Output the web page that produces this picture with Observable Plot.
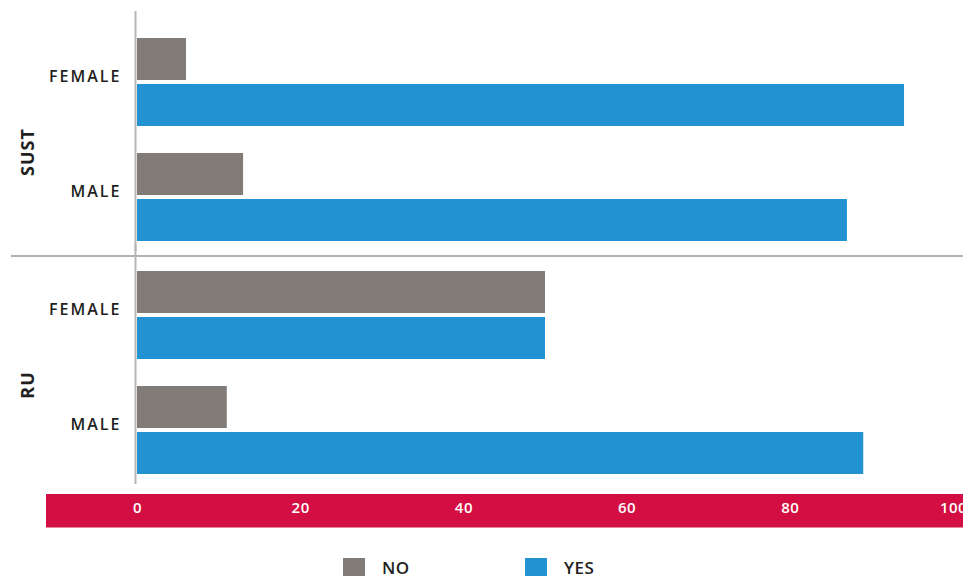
<!DOCTYPE html>
<html><head><meta charset="utf-8">
<script src="https://cdn.jsdelivr.net/npm/d3@7"></script>
<script src="https://cdn.jsdelivr.net/npm/@observablehq/plot@0.6"></script>
<style>
body{margin:0;background:#fff;font-family:"Open Sans",sans-serif;overflow:hidden;}
#chart svg{display:block;overflow:visible;}
#chart [aria-label="y-axis tick label"] text{letter-spacing:2px;}
#chart [aria-label="x-axis tick label"] text{letter-spacing:0.5px;}
#legend{position:relative;height:18px;margin-top:18px;font-family:"Open Sans",sans-serif;font-size:17px;font-weight:600;color:#231f20;overflow:visible;}
#legend .item{position:absolute;top:0;display:flex;align-items:flex-start;}
#legend .sw{width:22px;height:18px;margin-right:17px;}
#legend span{line-height:17px;margin-top:1px;letter-spacing:0.5px;}
</style></head><body>
<div id="chart"></div>
<div id="legend"></div>
<script>
const groups = ["SUST", "RU"];
const sexes = ["FEMALE", "MALE"];
const answers = ["NO", "YES"];
const answerColors = ["#817c78", "#2392d2"];
const sustNo = [6, 13];
const sustYes = [94, 87];
const ruNo = [50, 11];
const ruYes = [50, 89];
const xTicks = [0, 20, 40, 60, 80, 100];

const valuesByGroup = {SUST: [sustNo, sustYes], RU: [ruNo, ruYes]};
const rows = [];
groups.forEach(g => {
  sexes.forEach((s, si) => {
    answers.forEach((a, ai) => {
      rows.push({group: g, sex: s, answer: a, value: valuesByGroup[g][ai][si]});
    });
  });
});

const W = 963, H = 540, mt = 22, mb = 51, ml = 137, mr = 10;
const pIn = 0.233, pOut = 0.123, gap = 3;
const facetH = (H - mt - mb) / groups.length;
const step = facetH / (sexes.length - pIn + 2 * pOut);
const bw = step * (1 - pIn);
const half = bw / 2 + gap / 2;

const chart = Plot.plot({
  width: W, height: H,
  marginTop: mt, marginBottom: mb, marginLeft: ml, marginRight: mr,
  style: {fontFamily: "Open Sans, sans-serif", color: "#231f20", background: "transparent"},
  x: {domain: [0, 100], axis: null},
  y: {domain: sexes, paddingInner: pIn, paddingOuter: pOut, axis: null},
  fy: {domain: groups, padding: 0, axis: null},
  color: {domain: answers, range: answerColors},
  marks: [
    Plot.barX(rows.filter(d => d.answer === "NO"), {fy: "group", y: "sex", x: "value", fill: "answer", insetBottom: half}),
    Plot.barX(rows.filter(d => d.answer === "YES"), {fy: "group", y: "sex", x: "value", fill: "answer", insetTop: half}),
    Plot.ruleX([0], {stroke: "#b8b6b4", strokeWidth: 2, dx: -2, insetTop: -12, insetBottom: 5}),
    Plot.axisY({anchor: "left", tickSize: 0, tickPadding: 16, fontSize: 16, fontWeight: 600, dy: -6, fill: "#231f20", label: null}),
    Plot.text(groups, {fy: d => d, text: d => d, frameAnchor: "left", textAnchor: "middle", dx: -109, dy: 12, rotate: -90, fontSize: 18, fontWeight: "bold", fill: "#231f20"}),
    Plot.axisX(xTicks, {anchor: "bottom", tickSize: 0, tickPadding: 13, fontSize: 15, fontWeight: 600, fill: "white", label: null})
  ]
});
document.getElementById("chart").appendChild(chart);

// decorations derived from the plot's scales
const svg = d3.select(chart);
svg.selectAll('g[aria-label="text"] text').style("letter-spacing", "1px");
const fyScale = chart.scale("fy");
const sepY = fyScale.apply(groups[1]);
svg.insert("line", "g")
  .attr("x1", 11).attr("x2", W).attr("y1", sepY).attr("y2", sepY)
  .attr("stroke", "#9a9a9a").attr("stroke-width", 1.3);
svg.insert("rect", ":first-child")
  .attr("x", 46).attr("width", W - 46)
  .attr("y", H - mb + 5).attr("height", 33.5)
  .attr("fill", "#d30e42");

// legend
const legendX = [343, 525];
const leg = d3.select("#legend");
answers.forEach((a, i) => {
  const item = leg.append("div").attr("class", "item").style("left", legendX[i] + "px");
  item.append("div").attr("class", "sw").style("background", answerColors[i]);
  item.append("span").text(a);
});
</script>
</body></html>
